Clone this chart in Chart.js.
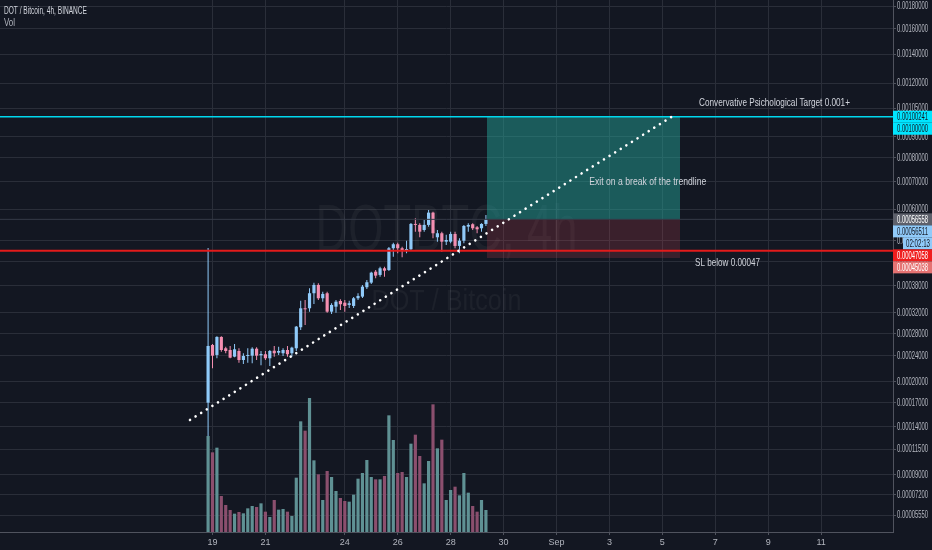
<!DOCTYPE html>
<html>
<head>
<meta charset="utf-8">
<script src="https://cdn.jsdelivr.net/npm/chart.js@4/dist/chart.umd.min.js"></script>
<style>
  html, body { margin: 0; padding: 0; background: #131722; }
  canvas { display: block; }
</style>
</head>
<body>
<canvas id="chart" width="932" height="550"></canvas>
<script>
// DOT / Bitcoin, 4h candles (Binance)
const firstCandleDay = 18 + 20 / 24; // 18 Aug, 20:00
const candleHours = 4;

const opens = [
  0.00017026, 0.00025895, 0.00024170, 0.00027336, 0.00025311, 0.00025010, 0.00023884, 0.00024842,
  0.00023330, 0.00024002, 0.00024052, 0.00025240, 0.00024120, 0.00024288, 0.00023616, 0.00024892,
  0.00024556, 0.00024456, 0.00025010, 0.00024456, 0.00025311, 0.00029157, 0.00032986, 0.00032986,
  0.00036284, 0.00038215, 0.00035154, 0.00036284, 0.00032273, 0.00033330, 0.00034555, 0.00034190,
  0.00033695, 0.00033480, 0.00035154, 0.00035516, 0.00037670, 0.00038760, 0.00041458, 0.00040640,
  0.00042326, 0.00041880, 0.00047740, 0.00048890, 0.00047740, 0.00047250, 0.00047452, 0.00055074,
  0.00054755, 0.00053160, 0.00054755, 0.00058796, 0.00050948, 0.00052160, 0.00049640, 0.00049640,
  0.00051948, 0.00048402, 0.00049928, 0.00054213, 0.00054978, 0.00054021, 0.00053702, 0.00055074
];
const highs = [
  0.00047826, 0.00026072, 0.00027450, 0.00027446, 0.00025594, 0.00025718, 0.00026072, 0.00025311,
  0.00024456, 0.00025311, 0.00025488, 0.00025488, 0.00024842, 0.00024842, 0.00025010, 0.00025718,
  0.00025594, 0.00025311, 0.00025718, 0.00025594, 0.00029410, 0.00034620, 0.00034770, 0.00037433,
  0.00038760, 0.00038618, 0.00036646, 0.00036646, 0.00034060, 0.00034770, 0.00034928, 0.00034770,
  0.00034620, 0.00035448, 0.00036284, 0.00038215, 0.00039400, 0.00041458, 0.00041880, 0.00042745,
  0.00042745, 0.00048114, 0.00049352, 0.00049352, 0.00048200, 0.00049928, 0.00055393, 0.00056920,
  0.00055297, 0.00056350, 0.00059700, 0.00059131, 0.00053160, 0.00052645, 0.00051675, 0.00052645,
  0.00052645, 0.00050675, 0.00054755, 0.00055297, 0.00055297, 0.00054436, 0.00055297, 0.00058025
];
const lows = [
  0.00012952, 0.00022002, 0.00023616, 0.00024724, 0.00024456, 0.00023616, 0.00023784, 0.00022898,
  0.00022690, 0.00022898, 0.00022802, 0.00023330, 0.00022482, 0.00023330, 0.00022370, 0.00023884,
  0.00024170, 0.00024002, 0.00023884, 0.00023884, 0.00024842, 0.00028630, 0.00029605, 0.00032273,
  0.00033910, 0.00034770, 0.00034404, 0.00032069, 0.00031804, 0.00032069, 0.00032620, 0.00032273,
  0.00033050, 0.00033050, 0.00034770, 0.00035222, 0.00037267, 0.00038452, 0.00039822, 0.00040218,
  0.00040218, 0.00041632, 0.00045408, 0.00046343, 0.00045243, 0.00046343, 0.00046975, 0.00052645,
  0.00050948, 0.00052645, 0.00054213, 0.00050645, 0.00049640, 0.00046783, 0.00048690, 0.00049180,
  0.00047740, 0.00046343, 0.00049180, 0.00052645, 0.00053160, 0.00052160, 0.00052645, 0.00054436
];
const closes = [
  0.00025718, 0.00024052, 0.00027336, 0.00025010, 0.00024842, 0.00023716, 0.00025134, 0.00023330,
  0.00024002, 0.00024052, 0.00025240, 0.00024052, 0.00024338, 0.00023616, 0.00024842, 0.00024456,
  0.00024842, 0.00025010, 0.00024288, 0.00025417, 0.00029274, 0.00032986, 0.00032770, 0.00036284,
  0.00038215, 0.00035154, 0.00036126, 0.00032273, 0.00033695, 0.00034404, 0.00033845, 0.00033480,
  0.00034060, 0.00035154, 0.00035674, 0.00037812, 0.00038855, 0.00041210, 0.00040466, 0.00042326,
  0.00041706, 0.00047740, 0.00048890, 0.00047740, 0.00047250, 0.00047452, 0.00055074, 0.00054755,
  0.00052645, 0.00054755, 0.00058796, 0.00052160, 0.00052160, 0.00049640, 0.00050130, 0.00051948,
  0.00048402, 0.00049928, 0.00054436, 0.00054755, 0.00053702, 0.00053383, 0.00055074, 0.00056511
];
// volume in DOT
const volumes = [
  288000, 239000, 253000, 108000, 81000, 66000, 55000, 60000, 56000, 71000,
  78000, 75000, 86000, 61000, 45000, 96000, 67000, 69000, 61000, 48000,
  163000, 332000, 304000, 402000, 215000, 173000, 96000, 183000, 165000, 123000,
  102000, 93000, 91000, 112000, 160000, 177000, 216000, 165000, 158000, 158000,
  168000, 350000, 276000, 177000, 180000, 165000, 265000, 292000, 228000, 146000,
  213000, 383000, 251000, 277000, 96000, 126000, 136000, 110000, 177000, 118000,
  78000, 61000, 96000, 66000
];

// axes (x = day of August, 32 = 1 Sep)
const dayTicks = [19, 21, 24, 26, 28, 30, 32, 34, 36, 38, 40, 42];
const dayTickLabels = ['19', '21', '24', '26', '28', '30', 'Sep', '3', '5', '7', '9', '11'];
const priceTicks = [
  0.0018, 0.0016, 0.0014, 0.0012, 0.00105, 0.0009, 0.0008, 0.0007, 0.0006, 0.0005, 0.00044,
  0.00038, 0.00032, 0.00028, 0.00024, 0.0002, 0.00017, 0.00014, 0.000115, 0.00009, 0.000072, 0.0000555
];
const dayMin = 10.969, dayMax = 44.718;
const priceMin = 0.00004309, priceMax = 0.0018569;
const volumeMax = 1596000;

// drawings
const targetPrice = 0.00100241;
const roundTarget = 0.001;
const entryPrice = 0.00056558;
const stopLine = 0.00047058;
const stopPrice = 0.00045038;
const lastPrice = 0.00056511;
const countdown = '02:02:13';
const boxDays = [29.374, 36.668];
const trendDays = [18.15, 36.52];
const trendPrices = [0.0001482, 0.0010173];
const noteTexts = ['Convervative Psichological Target 0.001+', 'Exit on a break of the trendline', 'SL below 0.00047'];
const noteDays = [37.386, 33.24, 37.235];
const notePrices = [0.0010793, 0.0006997, 0.00043635];

const FONT = "'Liberation Sans', 'DejaVu Sans', sans-serif";
const UP = '#90caf9', DOWN = '#f48fb1';
const VOL_UP = '#5f9194', VOL_DOWN = '#8b4f6e';
const GRID = '#2a2e39', AXIS = '#50535e', TEXT = '#b2b5be';

// TradingView-like price scale: log(price + shift)
const SHIFT = 0.0001;
class ShiftLogScale extends Chart.LinearScale {
  getPixelForValue(value) {
    const a = Math.log(this.min + SHIFT), b = Math.log(this.max + SHIFT);
    return this.getPixelForDecimal((Math.log(value + SHIFT) - a) / (b - a));
  }
  getValueForPixel(pixel) {
    const a = Math.log(this.min + SHIFT), b = Math.log(this.max + SHIFT);
    return Math.exp(a + this.getDecimalForPixel(pixel) * (b - a)) - SHIFT;
  }
}
ShiftLogScale.id = 'shiftLog';
Chart.register(ShiftLogScale);

const candleDays = opens.map((_, i) => firstCandleDay + i * candleHours / 24);
const isUp = opens.map((o, i) => closes[i] >= o);

const drawingsPlugin = {
  id: 'drawings',
  beforeDatasetsDraw(chart) {
    const { ctx, chartArea: a, scales: { x, y } } = chart;
    ctx.save();
    ctx.beginPath();
    ctx.rect(a.left, a.top, a.right - a.left, a.bottom - a.top);
    ctx.clip();

    // symbol watermark
    const cx = (a.left + a.right) / 2, cy = (a.top + a.bottom) / 2;
    ctx.fillStyle = 'rgba(255,255,255,0.045)';
    ctx.textAlign = 'center';
    ctx.textBaseline = 'middle';
    ctx.font = '66px ' + FONT;
    ctx.fillText('DOTBTC, 4h', cx, cy - 33, 262);
    ctx.font = '30px ' + FONT;
    ctx.fillText('DOT / Bitcoin', cx, cy + 36, 150);

    // long position box
    const x0 = x.getPixelForValue(boxDays[0]), x1 = x.getPixelForValue(boxDays[1]);
    const yT = y.getPixelForValue(targetPrice);
    const yE = y.getPixelForValue(entryPrice);
    const yS = y.getPixelForValue(stopPrice);
    ctx.fillStyle = 'rgba(38,166,154,0.48)';
    ctx.fillRect(x0, yT, x1 - x0, yE - yT);
    ctx.fillStyle = 'rgba(200,70,80,0.22)';
    ctx.fillRect(x0, yE, x1 - x0, yS - yE);
    ctx.restore();
  },
  afterDatasetsDraw(chart) {
    const { ctx, scales: { x, y } } = chart;
    ctx.save();
    ctx.fillStyle = '#d1d4dc';
    ctx.textAlign = 'left';
    ctx.textBaseline = 'middle';
    ctx.font = '11px ' + FONT;
    const widths = [151, 117, 65];
    noteTexts.forEach((t, i) => {
      ctx.fillText(t, x.getPixelForValue(noteDays[i]), y.getPixelForValue(notePrices[i]), widths[i]);
    });
    ctx.restore();
  },
  afterDraw(chart) {
    const { ctx, scales: { y } } = chart;
    ctx.save();
    // header
    ctx.textAlign = 'left';
    ctx.textBaseline = 'middle';
    ctx.font = '10px ' + FONT;
    ctx.fillStyle = '#d1d4dc';
    ctx.fillText('DOT / Bitcoin, 4h, BINANCE', 4, 11, 83);
    ctx.fillStyle = TEXT;
    ctx.fillText('Vol', 4, 23, 11);

    // price scale labels (condensed so they fit the narrow scale)
    ctx.font = '10px ' + FONT;
    ctx.fillStyle = TEXT;
    y.ticks.forEach(t => {
      ctx.fillText(t.value.toFixed(8), y.left + 4, y.getPixelForValue(t.value) + 0.5, 31);
    });

    // price scale badges, stacked so they don't overlap
    const badges = [
      { value: targetPrice, text: targetPrice.toFixed(8), bg: '#00e5ff', fg: '#131722' },
      { value: roundTarget, text: roundTarget.toFixed(8), bg: '#00e5ff', fg: '#131722' },
      { value: entryPrice, text: entryPrice.toFixed(8), bg: '#5d606b', fg: '#ffffff' },
      { value: lastPrice, text: lastPrice.toFixed(8), bg: '#90caf9', fg: '#131722' },
      { value: lastPrice, text: countdown, bg: '#90caf9', fg: '#131722', inset: 10 },
      { value: stopLine, text: stopLine.toFixed(8), bg: '#f01e1e', fg: '#ffffff' },
      { value: stopPrice, text: stopPrice.toFixed(8), bg: '#e57373', fg: '#ffffff' }
    ];
    const h = 12;
    let prev = -Infinity;
    badges
      .map((b, i) => ({ ...b, i, py: y.getPixelForValue(b.value) }))
      .sort((p, q) => p.py - q.py || p.i - q.i)
      .forEach(b => {
        const cy = Math.max(b.py, prev + h);
        prev = cy;
        const left = y.left + (b.inset || 0);
        ctx.fillStyle = b.bg;
        ctx.fillRect(left, cy - h / 2, chart.width - left, h);
        ctx.fillStyle = b.fg;
        if (b.inset) ctx.fillText(b.text, left + 3, cy + 0.5, chart.width - left - 5);
        else ctx.fillText(b.text, y.left + 4, cy + 0.5, 31);
      });
    ctx.restore();
  }
};

const hLine = (price, color, width) => ({
  type: 'line',
  data: [{ x: dayMin, y: price }, { x: dayMax, y: price }],
  borderColor: color,
  borderWidth: width,
  pointRadius: 0,
  yAxisID: 'y',
  order: 4
});

new Chart(document.getElementById('chart'), {
  type: 'bar',
  data: {
    datasets: [
      {
        label: 'Vol',
        data: candleDays.map((d, i) => ({ x: d, y: volumes[i] })),
        backgroundColor: isUp.map(u => (u ? VOL_UP : VOL_DOWN)),
        yAxisID: 'yv',
        grouped: false,
        order: 6
      },
      hLine(entryPrice, '#363a47', 1),
      hLine(targetPrice, '#00d8ee', 1.5),
      hLine(stopLine, '#e31b1b', 2),
      {
        label: 'wick',
        data: candleDays.map((d, i) => ({ x: d, y: [lows[i], highs[i]] })),
        backgroundColor: isUp.map(u => (u ? UP : DOWN)),
        maxBarThickness: 1,
        grouped: false,
        yAxisID: 'y',
        order: 5
      },
      {
        label: 'body',
        data: candleDays.map((d, i) => ({ x: d, y: [opens[i], closes[i]] })),
        backgroundColor: isUp.map(u => (u ? UP : DOWN)),
        minBarLength: 1,
        grouped: false,
        yAxisID: 'y',
        order: 5
      },
      {
        type: 'line',
        label: 'trendline',
        data: trendDays.map((d, i) => ({ x: d, y: trendPrices[i] })),
        borderColor: '#ffffff',
        borderWidth: 2.6,
        borderDash: [0.01, 6.6],
        borderCapStyle: 'round',
        pointRadius: 0,
        yAxisID: 'y',
        order: 1
      }
    ]
  },
  options: {
    responsive: false,
    animation: false,
    devicePixelRatio: 1,
    layout: { padding: 0 },
    font: { family: FONT },
    plugins: { legend: { display: false }, tooltip: { enabled: false } },
    scales: {
      x: {
        type: 'linear',
        min: dayMin,
        max: dayMax,
        offset: false,
        grid: { color: GRID, offset: false, tickLength: 3, tickColor: AXIS },
        border: { color: AXIS },
        ticks: {
          autoSkip: false,
          maxRotation: 0,
          padding: 2,
          color: TEXT,
          font: { family: FONT, size: 9 },
          callback: (v) => dayTickLabels[dayTicks.indexOf(v)]
        },
        afterBuildTicks: (s) => { s.ticks = dayTicks.map(v => ({ value: v })); },
        afterFit: (s) => { s.height = 18; }
      },
      y: {
        type: 'shiftLog',
        position: 'right',
        min: priceMin,
        max: priceMax,
        bounds: 'data',
        beginAtZero: false,
        grid: { color: GRID, tickLength: 3, tickColor: AXIS },
        border: { color: AXIS },
        ticks: { display: false, autoSkip: false },
        afterBuildTicks: (s) => { s.ticks = priceTicks.map(v => ({ value: v })); },
        afterFit: (s) => { s.width = 39; }
      },
      yv: {
        type: 'linear',
        display: false,
        min: 0,
        max: volumeMax
      }
    }
  },
  plugins: [drawingsPlugin]
});
</script>
</body>
</html>
